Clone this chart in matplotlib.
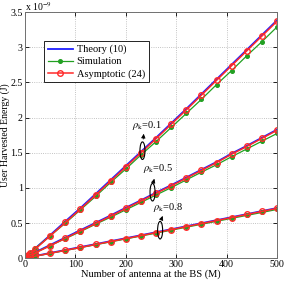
import matplotlib
matplotlib.use("Agg")
from matplotlib import pyplot as plt
from matplotlib.patches import Ellipse

# nombre d'antennes
M = [1, 5, 10, 20, 50, 80, 110, 140, 170, 200, 230, 260, 290, 320, 350, 380, 410, 440, 470, 500]

# energies (x 1e-9 J), rho = 0.1
theory_01 = [0.01, 0.04, 0.075, 0.14, 0.33, 0.525, 0.715, 0.915, 1.115, 1.315, 1.515, 1.715, 1.92, 2.125, 2.335, 2.545, 2.755, 2.965, 3.175, 3.385]
simu_01 = [0.02, 0.05, 0.08, 0.14, 0.32, 0.50, 0.69, 0.88, 1.08, 1.27, 1.47, 1.66, 1.86, 2.06, 2.26, 2.47, 2.67, 2.88, 3.08, 3.29]
asym_01 = [0.01, 0.04, 0.07, 0.13, 0.32, 0.51, 0.70, 0.90, 1.10, 1.30, 1.50, 1.70, 1.905, 2.11, 2.32, 2.53, 2.74, 2.95, 3.16, 3.37]

# rho = 0.5
theory_05 = [0.005, 0.025, 0.045, 0.085, 0.19, 0.295, 0.40, 0.505, 0.61, 0.72, 0.825, 0.935, 1.04, 1.15, 1.26, 1.37, 1.49, 1.60, 1.715, 1.83]
simu_05 = [0.01, 0.025, 0.045, 0.08, 0.18, 0.28, 0.38, 0.485, 0.585, 0.69, 0.795, 0.90, 1.005, 1.115, 1.225, 1.33, 1.445, 1.555, 1.665, 1.775]
asym_05 = [0.005, 0.02, 0.04, 0.075, 0.18, 0.285, 0.39, 0.495, 0.60, 0.71, 0.815, 0.925, 1.03, 1.14, 1.25, 1.36, 1.48, 1.59, 1.705, 1.82]

# rho = 0.8
theory_08 = [0.002, 0.009, 0.017, 0.033, 0.076, 0.118, 0.16, 0.202, 0.244, 0.286, 0.328, 0.371, 0.413, 0.456, 0.499, 0.542, 0.585, 0.628, 0.672, 0.715]
simu_08 = [0.004, 0.01, 0.017, 0.03, 0.07, 0.111, 0.152, 0.193, 0.234, 0.276, 0.317, 0.358, 0.4, 0.442, 0.484, 0.526, 0.568, 0.61, 0.652, 0.695]
asym_08 = [0.002, 0.008, 0.015, 0.03, 0.072, 0.114, 0.155, 0.197, 0.239, 0.281, 0.323, 0.366, 0.408, 0.451, 0.494, 0.537, 0.58, 0.623, 0.667, 0.71]

plt.rcParams['font.family'] = ['Liberation Serif', 'DejaVu Serif']
plt.rcParams['mathtext.fontset'] = 'stix'

fig = plt.figure(figsize=(2.96, 2.82), dpi=100)
ax = fig.add_axes([0.0845, 0.084, 0.8515, 0.873])

bleu = "#1f1fff"
vert = "#22a022"
rouge = "#ff2a2a"

for th, si, asy in [(theory_01, simu_01, asym_01), (theory_05, simu_05, asym_05), (theory_08, simu_08, asym_08)]:
    l1, = ax.plot(M, th, color=bleu, linewidth=1.3)
    l2, = ax.plot(M, si, color=vert, linewidth=0.9, marker="o", markersize=2.6)
    l3, = ax.plot(M, asy, color=rouge, linewidth=1.1, marker="o", markersize=4,
                  markerfacecolor="none", markeredgewidth=1.0)

ax.set_xlim(0, 500)
ax.set_ylim(0, 3.5)
ax.set_xticks([0, 100, 200, 300, 400, 500])
ax.set_yticks([0, 0.5, 1, 1.5, 2, 2.5, 3, 3.5])
ax.set_yticklabels(["0", "0.5", "1", "1.5", "2", "2.5", "3", "3.5"])
ax.tick_params(direction="in", labelsize=7.2, length=3, width=0.6, top=True, right=True, pad=1.5)
ax.grid(True, linestyle=":", color="#b0b0b0", linewidth=0.6)
for s in ax.spines.values():
    s.set_color("#707070")
    s.set_linewidth(0.7)

ax.set_xlabel("Number of antenna at the BS (M)", fontsize=7.5, labelpad=0)
ax.set_ylabel("User Harvested Energy (J)", fontsize=7)
ax.yaxis.set_label_coords(-0.058, 0.5)
ax.text(0, 0.997, r"x 10$^{-9}$", transform=ax.transAxes, fontsize=7, va="bottom", ha="left")

leg = ax.legend([l1, l2, l3], ["Theory (10)", "Simulation", "Asymptotic (24)"],
                loc="upper left", bbox_to_anchor=(0.075, 0.882), borderaxespad=0,
                fontsize=7.5, fancybox=False, edgecolor="black", framealpha=1,
                handlelength=2.4, labelspacing=0.25, borderpad=0.35, handletextpad=0.4)
leg.get_frame().set_linewidth(0.6)

# ellipses et fleches
for (cx, cy), txt, (tx, ty), (ax_, ay) in [
        ((233, 1.53), r"$\rho_{\mathrm{k}}$=0.1", (212, 1.89), (236, 1.81)),
        ((253, 0.94), r"$\rho_{\mathrm{k}}$=0.5", (234, 1.28), (258, 1.17)),
        ((268, 0.40), r"$\rho_{\mathrm{k}}$=0.8", (253, 0.72), (275, 0.64))]:
    ax.add_patch(Ellipse((cx, cy), 10, 0.25, fill=False, edgecolor="black", linewidth=0.8, zorder=5))
    ax.annotate("", xy=(ax_, ay), xytext=(cx + 1, cy + 0.125),
                arrowprops=dict(arrowstyle="-|>", color="black", lw=0.6, mutation_scale=6), zorder=6)
    ax.text(tx, ty, txt, fontsize=7.5, ha="left", va="center", zorder=6)

fig.savefig("out.png", dpi=100)
